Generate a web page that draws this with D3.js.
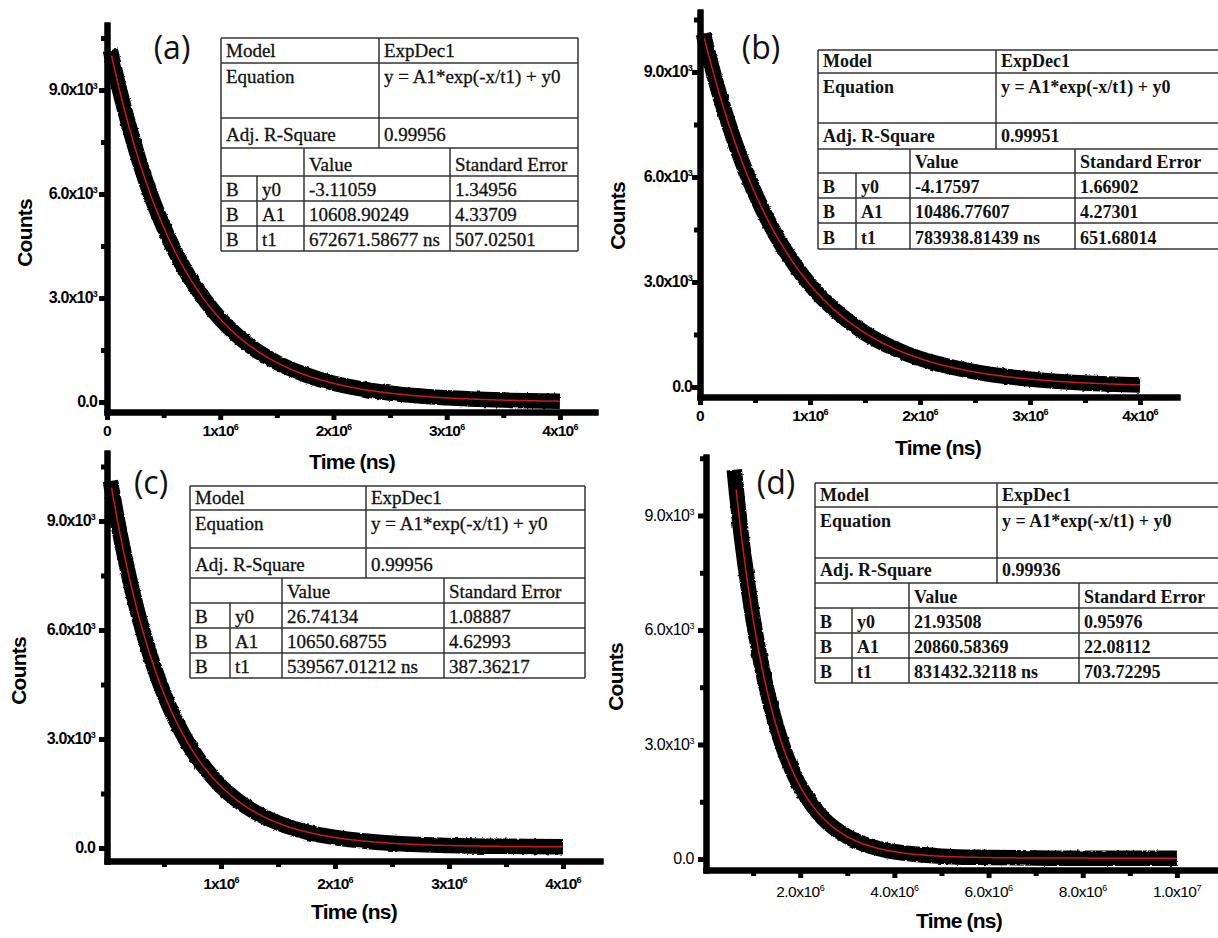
<!DOCTYPE html>
<html>
<head>
<meta charset="utf-8">
<script src="https://cdn.jsdelivr.net/npm/d3@7"></script>
<style>
  body { margin: 0; background: #fff; }
  svg { display: block; }
  .ax .domain { stroke: #000; stroke-width: 6px; stroke-linecap: square; }
  .ax .tick line { stroke: #000; stroke-width: 5px; }
</style>
</head>
<body>
<svg id="chart" width="1218" height="938"></svg>
<script>
// ---- Fit results, ExpDec1: y = A1*exp(-x/t1) + y0 ----
const panelNames = ["(a)", "(b)", "(c)", "(d)"];
const adjRSquare = ["0.99956", "0.99951", "0.99956", "0.99936"];
const fitY0 = [-3.11059, -4.17597, 26.74134, 21.93508];
const fitY0Err = ["1.34956", "1.66902", "1.08887", "0.95976"];
const fitA1 = [10608.90249, 10486.77607, 10650.68755, 20860.58369];
const fitA1Err = ["4.33709", "4.27301", "4.62993", "22.08112"];
const fitT1 = [672671.58677, 783938.81439, 539567.01212, 831432.32118];
const fitT1Err = ["507.02501", "651.68014", "387.36217", "703.72295"];

// ---- Measured decays (time in ns, counts) ----
const decayTime = [0.03e6, 0.1e6, 0.2e6, 0.3e6, 0.4e6, 0.5e6, 0.6e6, 0.75e6, 1.0e6, 1.25e6, 1.5e6, 1.75e6, 2.0e6, 2.5e6, 3.0e6, 3.5e6, 4.0e6];
const countsA = [10150, 9150, 7900, 6800, 5850, 5050, 4350, 3480, 2400, 1650, 1140, 790, 540, 255, 120, 55, 25];
const countsB = [10090, 9230, 8120, 7150, 6290, 5540, 4870, 4020, 2920, 2130, 1540, 1120, 810, 430, 225, 115, 60];
const countsC = [10100, 8880, 7380, 6130, 5100, 4240, 3530, 2680, 1700, 1080, 690, 440, 290, 130, 70, 45, 35];
const decayTimeD = [0.6e6, 0.7e6, 0.8e6, 1.0e6, 1.25e6, 1.5e6, 1.75e6, 2.0e6, 2.5e6, 3.0e6, 3.5e6, 4.0e6, 5.0e6, 6.0e6, 7.0e6, 8.0e6, 10.0e6];
const countsD = [10200, 9010, 7990, 6290, 4660, 3460, 2560, 1900, 1050, 590, 330, 190, 75, 40, 25, 22, 22];
const fitStart = [0.04e6, 0.04e6, 0.04e6, 0.64e6];
const fitEnd = [4.0e6, 4.0e6, 4.0e6, 10.0e6];

// ---- Tick values and labels ----
const yTickValues = [0, 3000, 6000, 9000];
const yTickMantissa = ["0.0", "3.0x10", "6.0x10", "9.0x10"];
const yTickExponent = ["", "3", "3", "3"];
const yMinorValues = [1500, 4500, 7500, 10500];

const xTicksAB = [0, 1e6, 2e6, 3e6, 4e6];
const xMantissaAB = ["0", "1x10", "2x10", "3x10", "4x10"];
const xExponentAB = ["", "6", "6", "6", "6"];
const xTicksC = [1e6, 2e6, 3e6, 4e6];
const xMantissaC = ["1x10", "2x10", "3x10", "4x10"];
const xExponentC = ["6", "6", "6", "6"];
const xMinorABC = [0.5e6, 1.5e6, 2.5e6, 3.5e6];
const xTicksD = [2e6, 4e6, 6e6, 8e6, 1e7];
const xMantissaD = ["2.0x10", "4.0x10", "6.0x10", "8.0x10", "1.0x10"];
const xExponentD = ["6", "6", "6", "6", "7"];
const xMinorD = [1e6, 3e6, 5e6, 7e6, 9e6];

const xTitle = "Time (ns)";
const yTitle = "Counts";

// ---- Panel geometry ----
const panels = [
  { left: 107, right: 595, top: 25, bottom: 412, xMax: 4.31e6, yMin: -288, yMax: 10875,
    time: decayTime, counts: countsA,
    xt: xTicksAB, xm: xMantissaAB, xe: xExponentAB, xminor: xMinorABC,
    tickBold: true, yLabGap: 10, xLabDy: 24, xTitleX: 352, xTitleY: 469, yTitleX: 25, yTitleY: 233,
    nameX: 172, nameY: 59,
    table: { left: 221, right: 578, rows: [38, 63, 118, 148, 176, 201, 226, 251], div: 379, cB: 257, cP: 304, cV: 450, size: 19, bold: false } },
  { left: 700, right: 1177, top: 12, bottom: 397, xMax: 4.336e6, yMin: -286, yMax: 10714,
    time: decayTime, counts: countsB,
    xt: xTicksAB, xm: xMantissaAB, xe: xExponentAB, xminor: xMinorABC,
    tickBold: true, yLabGap: 8, xLabDy: 24, xTitleX: 938, xTitleY: 455, yTitleX: 618, yTitleY: 216,
    nameX: 761, nameY: 59,
    table: { left: 818, right: 1226, rows: [50, 73, 123, 149, 173, 198, 223, 249], div: 996, cB: 856, cP: 910, cV: 1075, size: 18, bold: true } },
  { left: 107, right: 600, top: 453, bottom: 861, xMax: 4.325e6, yMin: -358, yMax: 10872,
    time: decayTime, counts: countsC,
    xt: xTicksC, xm: xMantissaC, xe: xExponentC, xminor: xMinorABC,
    tickBold: true, yLabGap: 12, xLabDy: 28, xTitleX: 354, xTitleY: 919, yTitleX: 19, yTitleY: 671,
    nameX: 151, nameY: 494,
    table: { left: 190, right: 585, rows: [486, 510, 548, 578, 603, 628, 653, 678], div: 366, cB: 230, cP: 282, cV: 444, size: 19, bold: false } },
  { left: 706, right: 1224, top: 457, bottom: 870, xMax: 11.0e6, yMin: -288, yMax: 10533,
    time: decayTimeD, counts: countsD,
    xt: xTicksD, xm: xMantissaD, xe: xExponentD, xminor: xMinorD,
    tickBold: false, yLabGap: 12, xLabDy: 27, xTitleX: 959, xTitleY: 928, yTitleX: 616, yTitleY: 677,
    nameX: 776, nameY: 494,
    table: { left: 815, right: 1226, rows: [483, 507, 558, 583, 608, 633, 658, 683], div: 997, cB: 852, cP: 909, cV: 1079, size: 18, bold: true } }
];

const svg = d3.select("#chart");
const sansBold = "'Liberation Sans', Arial, Helvetica, sans-serif";
const serif = "'Liberation Serif', 'Times New Roman', serif";

// slight edge roughness for the dense data bands
const defs = svg.append("defs");
const rough = defs.append("filter").attr("id", "rough").attr("x", "-5%").attr("y", "-5%")
  .attr("width", "110%").attr("height", "110%");
rough.append("feTurbulence").attr("type", "fractalNoise").attr("baseFrequency", 0.3)
  .attr("numOctaves", 1).attr("seed", 3).attr("result", "n");
rough.append("feDisplacementMap").attr("in", "SourceGraphic").attr("in2", "n")
  .attr("scale", 3).attr("xChannelSelector", "R").attr("yChannelSelector", "G");

function addSup(sel, mant, exp, supSize) {
  sel.append("tspan").text(mant);
  if (exp) sel.append("tspan").attr("dy", -6).attr("font-size", supSize).text(exp);
}

panels.forEach((p, i) => {
  const g = svg.append("g");
  const x = d3.scaleLinear().domain([0, p.xMax]).range([p.left, p.right]);
  const y = d3.scaleLinear().domain([p.yMin, p.yMax]).range([p.bottom, p.top]);

  // measured decay: thick black band
  const line = d3.line().x((d) => x(d[0])).y((d) => y(d[1])).curve(d3.curveCatmullRom.alpha(0.5));
  const pts = p.time.map((t, k) => [t, p.counts[k]]);
  g.append("path").datum(pts).attr("d", line)
    .attr("fill", "none").attr("stroke", "#000").attr("stroke-width", 15.5)
    .attr("stroke-linejoin", "round").attr("stroke-linecap", "butt")
    .attr("filter", "url(#rough)");

  // fitted ExpDec1 curve from the tabulated parameters
  const nFit = 300;
  const fitPts = d3.range(nFit).map((k) => {
    const t = fitStart[i] + (fitEnd[i] - fitStart[i]) * k / (nFit - 1);
    return [t, fitA1[i] * Math.exp(-t / fitT1[i]) + fitY0[i]];
  });
  g.append("path").datum(fitPts).attr("d", d3.line().x((d) => x(d[0])).y((d) => y(d[1])))
    .attr("fill", "none").attr("stroke", "#cc1a1a").attr("stroke-width", 1.5);

  // axes
  const clean = (a) => a.selectAll(".tick text").remove();
  g.append("g").attr("class", "ax").attr("transform", `translate(${p.left},0)`)
    .call(d3.axisLeft(y).tickValues(yMinorValues).tickSize(6).tickSizeOuter(0).tickFormat(""))
    .call(clean);
  g.append("g").attr("class", "ax").attr("transform", `translate(${p.left},0)`)
    .call(d3.axisLeft(y).tickValues(yTickValues).tickSize(8).tickSizeOuter(0).tickFormat(""))
    .call(clean);
  g.append("g").attr("class", "ax").attr("transform", `translate(0,${p.bottom})`)
    .call(d3.axisBottom(x).tickValues(p.xminor).tickSize(6).tickSizeOuter(0).tickFormat(""))
    .call(clean);
  g.append("g").attr("class", "ax").attr("transform", `translate(0,${p.bottom})`)
    .call(d3.axisBottom(x).tickValues(p.xt).tickSize(8).tickSizeOuter(0).tickFormat(""))
    .call(clean);

  const tickWeight = p.tickBold ? "bold" : "normal";
  const tickSpacing = p.tickBold ? -0.8 : -0.5;

  // y tick labels
  yTickValues.forEach((v, k) => {
    const t = g.append("text")
      .attr("x", p.left - p.yLabGap).attr("y", y(v) + 5)
      .attr("text-anchor", "end")
      .attr("font-family", sansBold).attr("font-weight", tickWeight)
      .attr("font-size", 16).attr("letter-spacing", tickSpacing).attr("fill", "#000");
    addSup(t, yTickMantissa[k], yTickExponent[k], 9);
  });
  // x tick labels
  p.xt.forEach((v, k) => {
    const t = g.append("text")
      .attr("x", x(v)).attr("y", p.bottom + p.xLabDy)
      .attr("text-anchor", "middle")
      .attr("font-family", sansBold).attr("font-weight", tickWeight)
      .attr("font-size", 15.5).attr("letter-spacing", tickSpacing).attr("fill", "#000");
    addSup(t, p.xm[k], p.xe[k], 9);
  });

  // axis titles
  g.append("text").attr("x", p.xTitleX).attr("y", p.xTitleY)
    .attr("text-anchor", "middle").attr("font-family", sansBold).attr("font-weight", "bold")
    .attr("font-size", 21).attr("letter-spacing", -0.8).text(xTitle);
  g.append("text")
    .attr("transform", `translate(${p.yTitleX + 7},${p.yTitleY}) rotate(-90)`)
    .attr("text-anchor", "middle").attr("font-family", sansBold).attr("font-weight", "bold")
    .attr("font-size", 21).attr("letter-spacing", -0.8).text(yTitle);

  // panel name
  g.append("text").attr("x", p.nameX).attr("y", p.nameY)
    .attr("text-anchor", "middle").attr("font-family", "'Open Sans', 'Noto Sans', sans-serif")
    .attr("font-size", 32).attr("fill", "#111").text(panelNames[i]);

  // fit result table
  const tb = p.table;
  const r = tb.rows;
  const tg = g.append("g").attr("font-family", serif).attr("font-size", tb.size)
    .attr("font-weight", tb.bold ? "bold" : "normal").attr("fill", "#111");
  const stroke = (x1, y1, x2, y2) => tg.append("line")
    .attr("x1", x1).attr("y1", y1).attr("x2", x2).attr("y2", y2)
    .attr("stroke", "#333").attr("stroke-width", 1.5);
  r.forEach((ry) => stroke(tb.left, ry, tb.right, ry));
  stroke(tb.left, r[0], tb.left, r[7]);
  stroke(tb.right, r[0], tb.right, r[7]);
  stroke(tb.div, r[0], tb.div, r[3]);
  stroke(tb.cB, r[4], tb.cB, r[7]);
  stroke(tb.cP, r[3], tb.cP, r[7]);
  stroke(tb.cV, r[3], tb.cV, r[7]);

  const pad = 5;
  const cell = (cx, by, txt) => tg.append("text").attr("x", cx + pad).attr("y", by)
    .attr("stroke", tb.bold ? "none" : "#111").attr("stroke-width", tb.bold ? 0 : 0.3).text(txt);
  cell(tb.left, r[1] - 6, "Model");
  cell(tb.div, r[1] - 6, "ExpDec1");
  cell(tb.left, r[1] + 20, "Equation");
  cell(tb.div, r[1] + 20, "y = A1*exp(-x/t1) + y0");
  cell(tb.left, r[3] - 7, "Adj. R-Square");
  cell(tb.div, r[3] - 7, adjRSquare[i]);
  cell(tb.cP, r[4] - 5, "Value");
  cell(tb.cV, r[4] - 5, "Standard Error");
  const params = [["y0", String(fitY0[i]), fitY0Err[i]],
                  ["A1", String(fitA1[i]), fitA1Err[i]],
                  ["t1", String(fitT1[i]) + " ns", fitT1Err[i]]];
  params.forEach((row, k) => {
    const by = r[5 + k] - 5;
    cell(tb.left, by, "B");
    cell(tb.cB, by, row[0]);
    cell(tb.cP, by, row[1]);
    cell(tb.cV, by, row[2]);
  });
});
</script>
</body>
</html>
